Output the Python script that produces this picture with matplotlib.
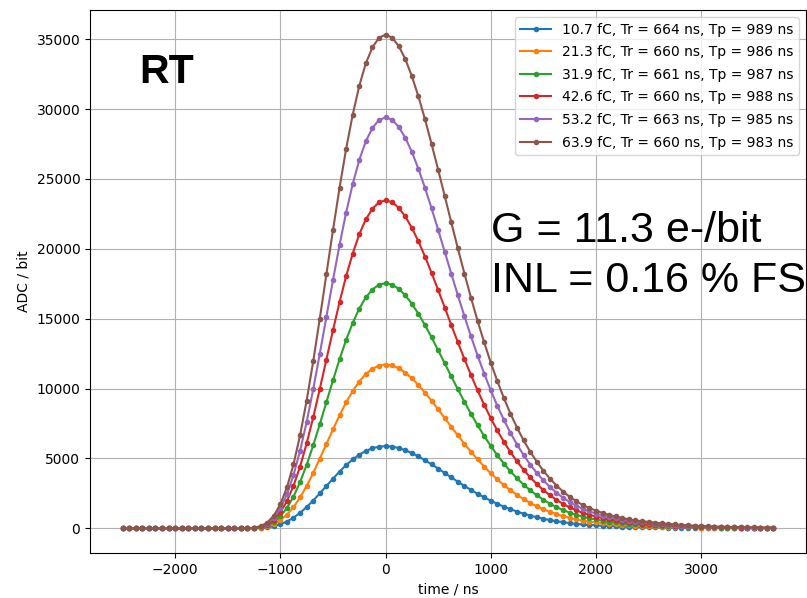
import numpy as np
import matplotlib
matplotlib.use("Agg")
import matplotlib.pyplot as plt

# sample times (62.5 ns sampling, 100 samples)
time_ns = np.arange(-2500, 3700, 62.5)

labels = [
    "10.7 fC, Tr = 664 ns, Tp = 989 ns",
    "21.3 fC, Tr = 660 ns, Tp = 986 ns",
    "31.9 fC, Tr = 661 ns, Tp = 987 ns",
    "42.6 fC, Tr = 660 ns, Tp = 988 ns",
    "53.2 fC, Tr = 663 ns, Tp = 985 ns",
    "63.9 fC, Tr = 660 ns, Tp = 983 ns",
]

adc_10p7 = [0] * 19 + [
    1, 7, 26, 68, 150, 286, 487, 761, 1108, 1521,
    1989, 2498, 3024, 3549, 4053, 4518, 4924, 5270, 5538, 5728,
    5844, 5880, 5845, 5746, 5590, 5387, 5144, 4872, 4579, 4272,
    3958, 3644, 3335, 3034, 2745, 2472, 2215, 1975, 1754, 1551,
    1366, 1199, 1048, 913, 793, 686, 592, 510, 437, 376,
    323, 276, 241, 212, 182, 159, 141, 123, 106, 94,
    85, 76, 68, 59, 52, 46, 40, 35, 31, 28,
    24, 21, 19, 16, 15, 13, 11, 10, 9, 8, 7]

adc_21p3 = [0] * 19 + [
    3, 14, 51, 136, 300, 570, 971, 1517, 2208, 3032,
    3965, 4980, 6028, 7073, 8079, 9005, 9814, 10503, 11039, 11416,
    11647, 11720, 11651, 11453, 11142, 10737, 10254, 9711, 9126, 8515,
    7889, 7263, 6646, 6048, 5472, 4927, 4415, 3937, 3496, 3092,
    2723, 2390, 2089, 1820, 1581, 1368, 1180, 1016, 872, 750,
    645, 551, 481, 422, 363, 316, 281, 246, 211, 188,
    170, 152, 135, 117, 103, 91, 80, 70, 62, 55,
    48, 42, 38, 33, 29, 26, 22, 20, 18, 15, 14]

adc_31p9 = [0] * 19 + [
    4, 21, 76, 204, 448, 853, 1452, 2270, 3305, 4538,
    5934, 7453, 9021, 10585, 12090, 13476, 14688, 15719, 16521, 17086,
    17431, 17540, 17437, 17141, 16675, 16068, 15346, 14534, 13658, 12743,
    11806, 10870, 9947, 9051, 8189, 7374, 6607, 5892, 5232, 4627,
    4075, 3576, 3126, 2724, 2366, 2047, 1766, 1521, 1305, 1123,
    965, 824, 719, 631, 544, 474, 421, 368, 316, 281,
    254, 228, 202, 175, 154, 137, 119, 105, 93, 82,
    72, 63, 56, 49, 44, 39, 33, 30, 26, 23, 21]

adc_42p6 = [0] * 19 + [
    5, 29, 102, 273, 600, 1141, 1944, 3037, 4422, 6072,
    7940, 9972, 12071, 14164, 16178, 18032, 19654, 21034, 22106, 22862,
    23324, 23470, 23332, 22935, 22313, 21501, 20534, 19447, 18276, 17051,
    15798, 14544, 13310, 12111, 10958, 9867, 8841, 7884, 7001, 6191,
    5452, 4786, 4182, 3645, 3166, 2739, 2363, 2035, 1746, 1502,
    1291, 1103, 962, 845, 728, 634, 563, 493, 422, 376,
    340, 305, 270, 235, 207, 183, 160, 141, 124, 110,
    96, 84, 75, 66, 59, 52, 45, 40, 35, 31, 28]

adc_53p2 = [0] * 19 + [
    6, 36, 128, 342, 751, 1429, 2435, 3804, 5539, 7606,
    9946, 12492, 15120, 17743, 20265, 22588, 24620, 26348, 27692, 28639,
    29218, 29400, 29227, 28730, 27951, 26933, 25722, 24361, 22894, 21359,
    19789, 18219, 16673, 15170, 13727, 12360, 11075, 9875, 8770, 7756,
    6830, 5995, 5239, 4566, 3966, 3431, 2961, 2549, 2187, 1882,
    1617, 1382, 1205, 1058, 911, 794, 706, 617, 529, 470,
    426, 382, 338, 294, 259, 229, 200, 176, 156, 138,
    121, 106, 94, 82, 74, 65, 56, 50, 44, 38, 35]

adc_63p9 = [0] * 19 + [
    8, 43, 153, 411, 903, 1717, 2925, 4570, 6654, 9137,
    11949, 15007, 18165, 21316, 24346, 27136, 29577, 31654, 33268, 34405,
    35101, 35320, 35112, 34515, 33579, 32357, 30901, 29266, 27504, 25660,
    23774, 21888, 20030, 18225, 16491, 14849, 13305, 11864, 10536, 9317,
    8205, 7202, 6294, 5485, 4765, 4122, 3557, 3062, 2628, 2260,
    1943, 1660, 1448, 1272, 1095, 954, 848, 742, 636, 565,
    512, 459, 406, 353, 311, 275, 240, 212, 187, 166,
    145, 127, 113, 99, 88, 78, 67, 60, 53, 46, 42]

series = [adc_10p7, adc_21p3, adc_31p9, adc_42p6, adc_53p2, adc_63p9]

W, H = 807, 598
fig = plt.figure(figsize=(W / 100, H / 100), dpi=100)
ax = fig.add_axes([90 / W, 1 - 553 / H, (806 - 90) / W, (553 - 10) / H])

for ys, lab in zip(series, labels):
    ax.plot(time_ns, ys, '.-', label=lab)

ax.grid(True)
ax.set_xlabel("time / ns")
ax.set_ylabel("ADC / bit")
ax.legend(loc="upper right", labelspacing=0.62, handlelength=2.2)

fig.text(139 / W, 1 - 82.7 / H, "RT", fontsize=29.5, fontweight="bold",
         family="Liberation Sans", ha="left", va="baseline")
fig.text(491 / W, 1 - 241.7 / H, "G = 11.3 e-/bit", fontsize=31,
         family="Liberation Sans", ha="left", va="baseline")
fig.text(491 / W, 1 - 291.7 / H, "INL = 0.16 % FS", fontsize=31,
         family="Liberation Sans", ha="left", va="baseline")

fig.savefig("out.png", dpi=100)
